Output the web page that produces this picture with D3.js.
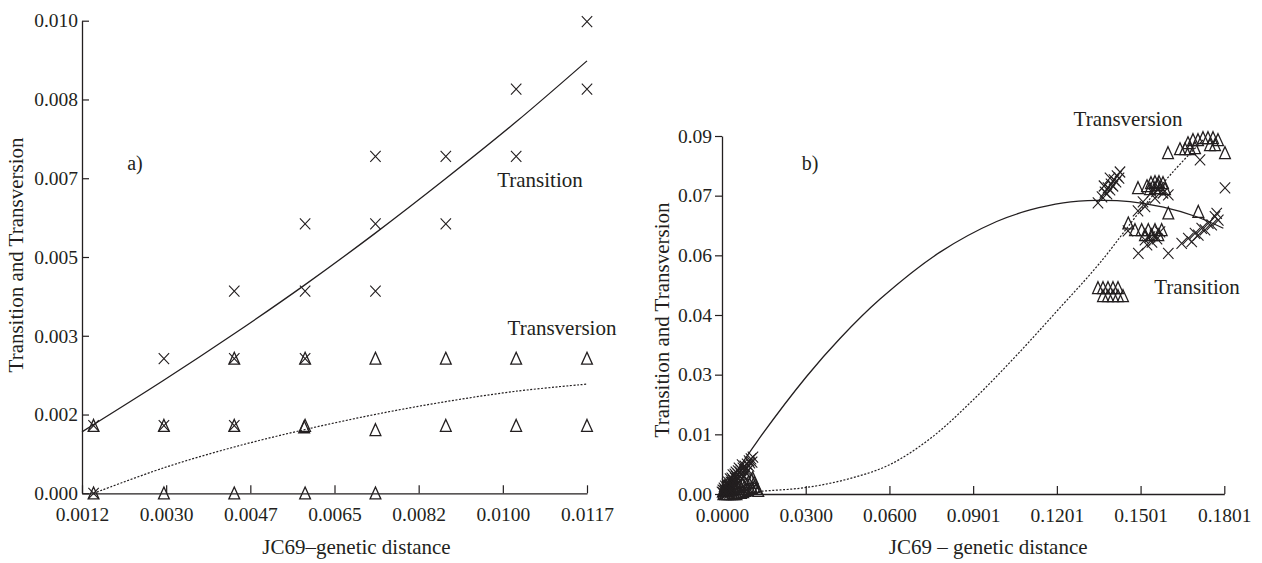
<!DOCTYPE html>
<html>
<head>
<meta charset="utf-8">
<script src="https://cdn.jsdelivr.net/npm/d3@7"></script>
<style>
  body { margin: 0; background: #fff; }
  svg { display: block; }
  text { font-family: "Liberation Serif", "DejaVu Serif", serif; fill: #231f20; }
</style>
</head>
<body>
<svg id="chart" width="1262" height="563"></svg>
<script>
// ---- panel a) ----
const aTickLabelsX = ['0.0012', '0.0030', '0.0047', '0.0065', '0.0082', '0.0100', '0.0117'];
const aTickLabelsY = ['0.000', '0.002', '0.003', '0.005', '0.007', '0.008', '0.010'];

const aTransition = [
  [0.00146, 0], [0.00146, 0.00143],
  [0.00292, 0.00143], [0.00292, 0.00285],
  [0.00438, 0.00143], [0.00438, 0.00285], [0.00438, 0.00428],
  [0.00585, 0.00285], [0.00585, 0.00428], [0.00585, 0.00570],
  [0.00731, 0.00428], [0.00731, 0.00570], [0.00731, 0.00713],
  [0.00877, 0.00570], [0.00877, 0.00713],
  [0.01023, 0.00713], [0.01023, 0.00855],
  [0.01170, 0.00855], [0.01170, 0.00998]
];
const aTransversion = [
  [0.00146, 0], [0.00146, 0.00143],
  [0.00292, 0], [0.00292, 0.00143],
  [0.00438, 0], [0.00438, 0.00143], [0.00438, 0.00285],
  [0.00585, 0], [0.00585, 0.00143], [0.00583, 0.00140], [0.00585, 0.00285],
  [0.00731, 0], [0.00731, 0.00134], [0.00731, 0.00285],
  [0.00877, 0.00143], [0.00877, 0.00285],
  [0.01023, 0.00143], [0.01023, 0.00285],
  [0.01170, 0.00143], [0.01170, 0.00285]
];
const aTransitionFit = [
  [0.00122, 0.00130], [0.00290, 0.00238], [0.00437, 0.00337], [0.00583, 0.00440],
  [0.00730, 0.00550], [0.00877, 0.00666], [0.01023, 0.00786], [0.01170, 0.00915]
];
const aTransversionFit = [
  [0.00146, 0.00000], [0.00292, 0.00054], [0.00438, 0.00098], [0.00585, 0.00135],
  [0.00731, 0.00167], [0.00877, 0.00194], [0.01023, 0.00216], [0.01170, 0.00231]
];

// ---- panel b) ----
const bTickLabelsX = ['0.0000', '0.0300', '0.0600', '0.0901', '0.1201', '0.1501', '0.1801'];
const bTickLabelsY = ['0.00', '0.01', '0.03', '0.04', '0.06', '0.07', '0.09'];

const bTransition = [
  // near origin
  [0.0004, 0.0003], [0.0011, 0.0008], [0.0018, 0.0013], [0.0022, 0.0020], [0.0029, 0.0023],
  [0.0032, 0.0030], [0.0039, 0.0035], [0.0047, 0.0040], [0.0050, 0.0045], [0.0057, 0.0050],
  [0.0065, 0.0055], [0.0068, 0.0060], [0.0075, 0.0065], [0.0082, 0.0070], [0.0090, 0.0075],
  [0.0097, 0.0083], [0.0104, 0.0088], [0.0111, 0.0093], [0.0014, 0.0000], [0.0025, 0.0005],
  [0.0036, 0.0010], [0.0043, 0.0018], [0.0054, 0.0023], [0.0061, 0.0030], [0.0072, 0.0038],
  [0.0079, 0.0045], [0.0086, 0.0053], [0.0093, 0.0060], [0.0007, 0.0015], [0.0018, 0.0025],
  [0.0029, 0.0038], [0.0039, 0.0048], [0.0050, 0.0055], [0.0061, 0.0065], [0.0072, 0.0073],
  [0.0000, 0.0005], [0.0007, 0.0000], [0.0021, 0.0003], [0.0032, 0.0015], [0.0045, 0.0028],
  [0.0010, 0.0010], [0.0025, 0.0018], [0.0040, 0.0028], [0.0054, 0.0040], [0.0068, 0.0050],
  [0.0083, 0.0062], [0.0097, 0.0070], [0.0108, 0.0080], [0.0015, 0.0005], [0.0030, 0.0008],
  [0.0050, 0.0033], [0.0065, 0.0043], [0.0080, 0.0058], [0.0100, 0.0078], [0.0003, 0.0010],
  [0.0012, 0.0020], [0.0023, 0.0030], [0.0035, 0.0040], [0.0046, 0.0050], [0.0058, 0.0058],
  // diagonal group near 0.135
  [0.13484, 0.07316], [0.13628, 0.07467], [0.13736, 0.07592], [0.13843, 0.07693], [0.13951, 0.07793],
  [0.14058, 0.07894], [0.14166, 0.07995], [0.14273, 0.08095], [0.13807, 0.07542], [0.13915, 0.07643],
  [0.14022, 0.07743], [0.14130, 0.07844], [0.14238, 0.07944], [0.13700, 0.07743], [0.13915, 0.07944],
  // middle group
  [0.16006, 0.07517], [0.15529, 0.07441], [0.15170, 0.07223], [0.14919, 0.07115], [0.15421, 0.07592],
  [0.15636, 0.07643], [0.15816, 0.07567], [0.15098, 0.07341],
  // lower middle group
  [0.15170, 0.06386], [0.15349, 0.06461], [0.15529, 0.06511], [0.15708, 0.06587], [0.15242, 0.06260],
  [0.15421, 0.06335], [0.15601, 0.06411], [0.14560, 0.06612], [0.14931, 0.06051], [0.16006, 0.06051],
  // right diagonal group
  [0.16486, 0.06303], [0.16723, 0.06428], [0.16963, 0.06554], [0.17204, 0.06680], [0.17440, 0.06805],
  [0.17680, 0.06971], [0.17742, 0.07057], [0.16845, 0.06343], [0.17082, 0.06511], [0.17322, 0.06637],
  [0.17562, 0.06763], [0.17799, 0.06888],
  [0.17143, 0.08397], [0.18039, 0.07693]
];
const bTransversion = [
  // near origin
  [0.0005, 0.0000], [0.0012, 0.0000], [0.0020, 0.0000], [0.0028, 0.0000], [0.0036, 0.0000],
  [0.0044, 0.0000], [0.0052, 0.0000], [0.0060, 0.0003], [0.0068, 0.0003], [0.0076, 0.0005],
  [0.0084, 0.0008], [0.0092, 0.0010], [0.0100, 0.0013], [0.0108, 0.0015], [0.0116, 0.0018],
  [0.0124, 0.0013], [0.0130, 0.0008], [0.0005, 0.0008], [0.0015, 0.0010], [0.0025, 0.0013],
  [0.0035, 0.0010], [0.0045, 0.0015], [0.0055, 0.0018], [0.0065, 0.0020], [0.0075, 0.0023],
  [0.0085, 0.0025], [0.0095, 0.0030], [0.0105, 0.0035], [0.0115, 0.0028], [0.0110, 0.0040],
  [0.0010, 0.0020], [0.0020, 0.0025],
  // row near 0.05
  [0.13484, 0.05179], [0.13664, 0.05179], [0.13843, 0.05179], [0.14022, 0.05179], [0.14202, 0.05179],
  [0.13664, 0.04978], [0.13843, 0.04978], [0.14022, 0.04978], [0.14202, 0.04978], [0.14381, 0.04978],
  // upper middle
  [0.14919, 0.07693], [0.15242, 0.07743], [0.15385, 0.07819], [0.15529, 0.07844], [0.15672, 0.07844],
  [0.15816, 0.07819], [0.15349, 0.07668], [0.15529, 0.07693], [0.15708, 0.07693], [0.15887, 0.07668],
  [0.15636, 0.07768],
  [0.16006, 0.07057], [0.17082, 0.07097],
  // lower middle
  [0.14571, 0.06805], [0.14811, 0.06637], [0.15052, 0.06637], [0.15289, 0.06637], [0.15529, 0.06637],
  [0.15769, 0.06637], [0.15170, 0.06511], [0.15410, 0.06511], [0.15647, 0.06511],
  // top
  [0.15995, 0.08573], [0.16425, 0.08673], [0.16605, 0.08673], [0.16784, 0.08673], [0.16963, 0.08698],
  [0.16712, 0.08824], [0.16891, 0.08900], [0.17071, 0.08900], [0.17250, 0.08950], [0.17429, 0.08950],
  [0.17609, 0.08950], [0.17788, 0.08900], [0.17501, 0.08774], [0.17680, 0.08774], [0.18039, 0.08573]
];
const bTransitionFit = [
  [0, 0], [0.0124, 0.0130], [0.0304, 0.0296], [0.0423, 0.0391], [0.0567, 0.0490],
  [0.0782, 0.0608], [0.0985, 0.0685], [0.1105, 0.0714], [0.1224, 0.0732], [0.1344, 0.0738],
  [0.1463, 0.0735], [0.1583, 0.0721], [0.1702, 0.0697], [0.1798, 0.0668]
];
const bTransversionFit = [
  [0, 0], [0.01506, 0.00075], [0.03012, 0.00163], [0.04519, 0.00377], [0.05989, 0.00729],
  [0.07495, 0.01408], [0.09002, 0.02363], [0.10508, 0.03444], [0.12014, 0.04601], [0.13520, 0.05782],
  [0.15026, 0.07140], [0.16138, 0.08070], [0.17250, 0.08900]
];

const ink = '#231f20';
const svg = d3.select('#chart');

const crossPath = 'M-5.2,-5.5L5.2,5.5M-5.2,5.5L5.2,-5.5';
const triPath = 'M0,-6.3L5.4,5.6L-5.4,5.6Z';

function evenTicks(domain) {
  return d3.range(7).map(i => domain[0] + i * (domain[1] - domain[0]) / 6);
}

function drawPanel(cfg) {
  const g = svg.append('g');
  const x = d3.scaleLinear().domain(cfg.xDomain).range(cfg.xRange);
  const y = d3.scaleLinear().domain(cfg.yDomain).range(cfg.yRange);

  const xAxis = d3.axisBottom(x)
    .tickValues(evenTicks(cfg.xDomain))
    .tickFormat((d, i) => cfg.xLabels[i])
    .tickSizeInner(-8).tickSizeOuter(0).tickPadding(14);
  const gx = g.append('g')
    .attr('transform', `translate(0,${cfg.yRange[0]})`)
    .call(xAxis);

  const yAxis = d3.axisLeft(y)
    .tickValues(evenTicks(cfg.yDomain))
    .tickFormat((d, i) => cfg.yLabels[i])
    .tickSizeInner(cfg.yTickSize).tickSizeOuter(0).tickPadding(cfg.yPad);
  const gy = g.append('g')
    .attr('transform', `translate(${cfg.xRange[0]},0)`)
    .call(yAxis);

  [gx, gy].forEach(a => {
    a.attr('font-family', null);
    a.select('.domain').attr('stroke', ink).attr('stroke-width', 1.3);
    a.selectAll('.tick line').attr('stroke', ink).attr('stroke-width', 1.2);
    a.selectAll('.tick text')
      .attr('fill', ink)
      .style('font-family', '"Liberation Serif", serif')
      .style('font-size', '19.5px');
  });

  const line = d3.line()
    .x(d => x(d[0]))
    .y(d => y(d[1]))
    .curve(d3.curveCatmullRom.alpha(0.5));

  g.append('path')
    .datum(cfg.transitionFit)
    .attr('d', line)
    .attr('fill', 'none')
    .attr('stroke', ink)
    .attr('stroke-width', 1.3);

  g.append('path')
    .datum(cfg.transversionFit)
    .attr('d', line)
    .attr('fill', 'none')
    .attr('stroke', ink)
    .attr('stroke-width', 1.2)
    .attr('stroke-dasharray', '2,1.6');

  g.append('g').selectAll('path')
    .data(cfg.transversion)
    .join('path')
    .attr('d', triPath)
    .attr('transform', d => `translate(${x(d[0])},${y(d[1])})`)
    .attr('fill', 'none')
    .attr('stroke', ink)
    .attr('stroke-width', 1.3);

  g.append('g').selectAll('path')
    .data(cfg.transition)
    .join('path')
    .attr('d', crossPath)
    .attr('transform', d => `translate(${x(d[0])},${y(d[1])})`)
    .attr('fill', 'none')
    .attr('stroke', ink)
    .attr('stroke-width', 1.1);

  g.append('text')
    .attr('x', (cfg.xRange[0] + cfg.xRange[1]) / 2 + cfg.xTitleShift)
    .attr('y', 554)
    .attr('text-anchor', 'middle')
    .style('font-size', '21px')
    .text(cfg.xTitle);

  g.append('text')
    .attr('transform', `translate(${cfg.yTitlePos[0]},${cfg.yTitlePos[1]}) rotate(-90)`)
    .attr('text-anchor', 'middle')
    .attr('dy', '0.35em')
    .style('font-size', '21px')
    .text('Transition and Transversion');

  cfg.notes.forEach(n => {
    g.append('text')
      .attr('x', n.x)
      .attr('y', n.y)
      .attr('text-anchor', 'middle')
      .attr('dy', '0.35em')
      .style('font-size', n.size + 'px')
      .text(n.text);
  });
}

drawPanel({
  xDomain: [0.00122, 0.0117], xRange: [82, 587],
  yDomain: [0, 0.01], yRange: [493.3, 20.7],
  xLabels: aTickLabelsX, yLabels: aTickLabelsY,
  yTickSize: -7, yPad: 4,
  transition: aTransition, transversion: aTransversion,
  transitionFit: aTransitionFit, transversionFit: aTransversionFit,
  xTitle: 'JC69\u2013genetic distance', xTitleShift: 22,
  yTitlePos: [16, 255],
  notes: [
    { text: 'a)', x: 135, y: 163, size: 20 },
    { text: 'Transition', x: 540, y: 180, size: 21 },
    { text: 'Transversion', x: 562, y: 328, size: 21 }
  ]
});

drawPanel({
  xDomain: [0, 0.18014], xRange: [722, 1224.3],
  yDomain: [0, 0.09], yRange: [494, 136],
  xLabels: bTickLabelsX, yLabels: bTickLabelsY,
  yTickSize: 7, yPad: 3,
  transition: bTransition, transversion: bTransversion,
  transitionFit: bTransitionFit, transversionFit: bTransversionFit,
  xTitle: 'JC69  \u2013 genetic distance', xTitleShift: 15,
  yTitlePos: [662, 320],
  notes: [
    { text: 'b)', x: 810, y: 163, size: 20 },
    { text: 'Transversion', x: 1128, y: 119, size: 21 },
    { text: 'Transition', x: 1197, y: 287, size: 21 }
  ]
});
</script>
</body>
</html>
